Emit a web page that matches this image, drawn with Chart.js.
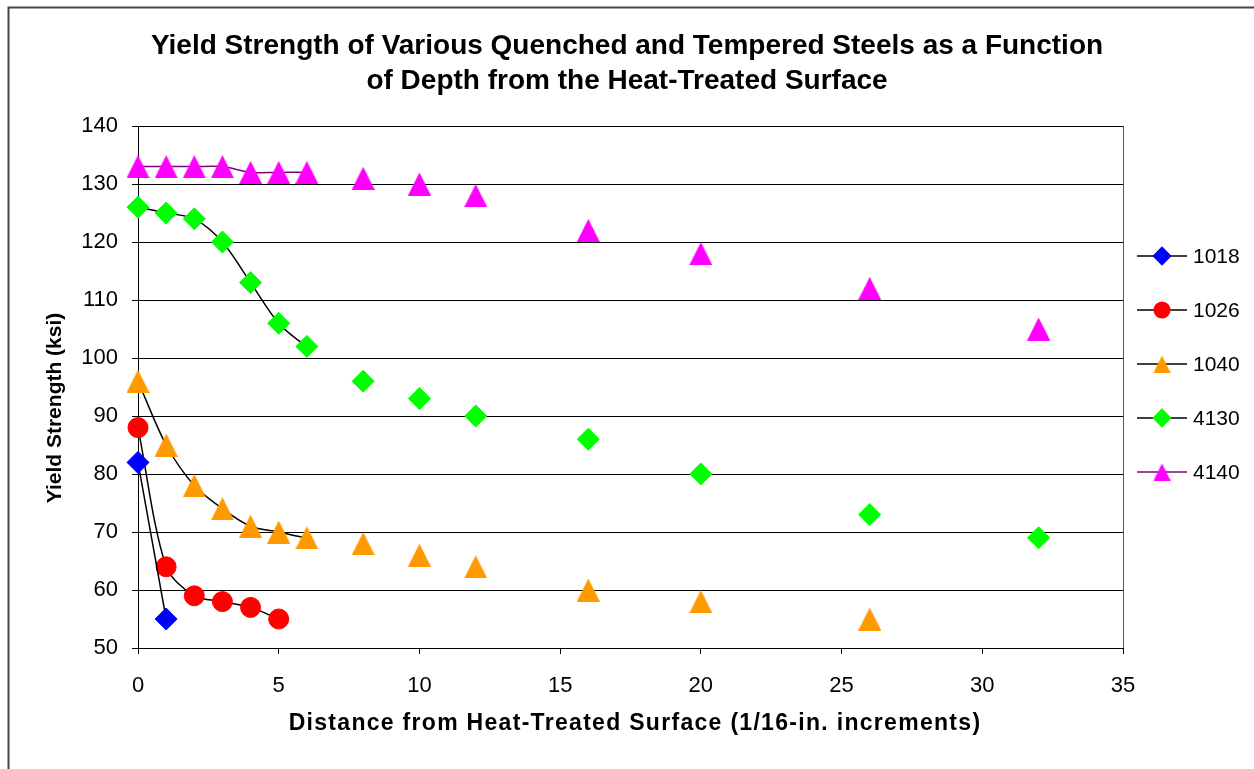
<!DOCTYPE html>
<html>
<head>
<meta charset="utf-8">
<title>Yield Strength vs Depth</title>
<script src="https://cdn.jsdelivr.net/npm/chart.js@4"></script>
<style>
  html, body { margin: 0; padding: 0; background: #fff; }
  #wrap { width: 1254px; height: 769px; }
</style>
</head>
<body>
<div id="wrap"><canvas id="yieldChart" width="1254" height="769"></canvas></div>
<script>
// distances in 1/16 in. increments
const depth = [0, 1, 2, 3, 4, 5, 6, 8, 10, 12, 16, 20, 26, 32];

const steel1018 = [82, 55];
const steel1026 = [88, 64, 59, 58, 57, 55];
const steel1040 = [96, 85, 78, 74, 71, 70, 69, 68, 66, 64, 60, 58, 55];
const steel4130 = [126, 125, 124, 120, 113, 106, 102, 96, 93, 90, 86, 80, 73, 69];
const steel4140 = [133, 133, 133, 133, 132, 132, 132, 131, 130, 128, 122, 118, 112, 105];

const xTicks = [0, 5, 10, 15, 20, 25, 30, 35];
const yTicks = [50, 60, 70, 80, 90, 100, 110, 120, 130, 140];

const xTitle = "Distance from Heat-Treated Surface (1/16-in. increments)";
const yTitle = "Yield Strength (ksi)";

const FONT = "'Liberation Sans', Arial, sans-serif";

function toPoints(vals) {
    return vals.map((v, i) => ({ x: depth[i], y: v }));
}

// Excel style triangle: as tall as it is wide, centred on its box
function triangle(size, color) {
    const c = document.createElement("canvas");
    c.width = size;
    c.height = size;
    const g = c.getContext("2d");
    g.fillStyle = color;
    g.beginPath();
    g.moveTo(size / 2, 0);
    g.lineTo(size, size);
    g.lineTo(0, size);
    g.closePath();
    g.fill();
    return c;
}

function series(label, vals, color, lineColor, style, radius) {
    const isTri = style === "triangle";
    return {
        label: label,
        data: toPoints(vals),
        showLine: true,
        clip: false,
        borderColor: lineColor,
        borderWidth: 1.5,
        tension: 0.3,
        pointStyle: isTri ? triangle(23, color) : style,
        legendStyle: isTri ? triangle(17, color) : style,
        pointRadius: radius,
        pointHoverRadius: radius,
        pointBackgroundColor: color,
        pointBorderColor: color,
        pointBorderWidth: 1,
        // the curve is only drawn over the closely spaced readings
        segment: {
            borderColor: ctx => (ctx.p1.parsed.x - ctx.p0.parsed.x > 1 ? "rgba(0,0,0,0)" : undefined)
        }
    };
}

const datasets = [
    series("1018", steel1018, "#0000FF", "#000000", "rectRot", 11),
    series("1026", steel1026, "#FF0000", "#000000", "circle", 10),
    series("1040", steel1040, "#FF9900", "#000000", "triangle", 12),
    series("4130", steel4130, "#00FF00", "#000000", "rectRot", 11),
    series("4140", steel4140, "#FF00FF", "#800080", "triangle", 12)
];

// frame, plot border, axis titles and the side legend
const decor = {
    id: "decor",
    beforeDraw(chart) {
        const ctx = chart.ctx;
        ctx.save();
        ctx.fillStyle = "#fff";
        ctx.fillRect(0, 0, chart.width, chart.height);
        ctx.strokeStyle = "#444";
        ctx.lineWidth = 2;
        ctx.beginPath();
        ctx.moveTo(8.5, chart.height);
        ctx.lineTo(8.5, 7.5);
        ctx.lineTo(chart.width, 7.5);
        ctx.stroke();
        ctx.restore();
    },
    afterDraw(chart) {
        const ctx = chart.ctx;
        const area = chart.chartArea;
        ctx.save();
        ctx.strokeStyle = "#555";
        ctx.lineWidth = 1;
        ctx.beginPath();
        ctx.moveTo(Math.round(area.right) + 0.5, area.top);
        ctx.lineTo(Math.round(area.right) + 0.5, area.bottom);
        ctx.stroke();

        // axis titles
        ctx.fillStyle = "#000";
        ctx.textAlign = "center";
        ctx.textBaseline = "middle";
        ctx.font = "bold 23px " + FONT;
        ctx.letterSpacing = "1.3px";
        ctx.fillText(xTitle, 635, 724);
        ctx.letterSpacing = "0px";
        ctx.save();
        ctx.translate(55, 408);
        ctx.rotate(-Math.PI / 2);
        ctx.font = "bold 21px " + FONT;
        ctx.fillText(yTitle, 0, 0);
        ctx.restore();

        const x0 = area.right + 14;
        chart.data.datasets.forEach((ds, i) => {
            const y = area.top + 130 + i * 54;
            ctx.strokeStyle = ds.borderColor;
            ctx.lineWidth = 1.5;
            ctx.beginPath();
            ctx.moveTo(x0, y);
            ctx.lineTo(x0 + 50, y);
            ctx.stroke();
            ctx.fillStyle = ds.pointBackgroundColor;
            ctx.strokeStyle = ds.pointBorderColor;
            Chart.helpers.drawPoint(ctx, {
                pointStyle: ds.legendStyle,
                radius: ds.pointRadius * 0.78,
                rotation: 0,
                borderWidth: 1
            }, x0 + 25, y);
            ctx.fillStyle = "#000";
            ctx.font = "21px " + FONT;
            ctx.textAlign = "left";
            ctx.textBaseline = "middle";
            ctx.fillText(ds.label, x0 + 56, y + 1);
        });
        ctx.restore();
    }
};

new Chart(document.getElementById("yieldChart"), {
    type: "scatter",
    data: { datasets: datasets },
    plugins: [decor],
    options: {
        responsive: false,
        animation: false,
        layout: { padding: 0 },
        plugins: {
            legend: { display: false },
            tooltip: { enabled: false },
            title: {
                display: true,
                text: [
                    "Yield Strength of Various Quenched and Tempered Steels as a Function",
                    "of Depth from the Heat-Treated Surface"
                ],
                color: "#000",
                font: { family: FONT, size: 28, weight: "bold", lineHeight: 1.25 },
                padding: { top: 28.5, bottom: 27.5 }
            }
        },
        scales: {
            x: {
                type: "linear",
                min: 0,
                max: 35,
                afterBuildTicks: axis => { axis.ticks = xTicks.map(v => ({ value: v })); },
                afterFit: axis => { axis.height = 121; },
                grid: { drawOnChartArea: false, drawTicks: true, tickLength: 6, color: "#000" },
                border: { display: true, color: "#000", width: 1 },
                ticks: { color: "#000", padding: 19, font: { family: FONT, size: 22 } }
            },
            y: {
                type: "linear",
                min: 50,
                max: 140,
                afterBuildTicks: axis => { axis.ticks = yTicks.map(v => ({ value: v })); },
                afterFit: axis => { axis.width = 138; },
                grid: { color: "#000", lineWidth: 1, tickLength: 6 },
                border: { display: true, color: "#000", width: 1 },
                ticks: { color: "#000", padding: 14, font: { family: FONT, size: 22 } }
            },
            // empty right-hand axis that keeps room for the legend
            yLegend: {
                type: "linear",
                position: "right",
                min: 50,
                max: 140,
                afterFit: axis => { axis.width = 131; },
                grid: { drawOnChartArea: false, drawTicks: false },
                border: { display: false },
                ticks: { display: false }
            }
        }
    }
});
</script>
</body>
</html>
